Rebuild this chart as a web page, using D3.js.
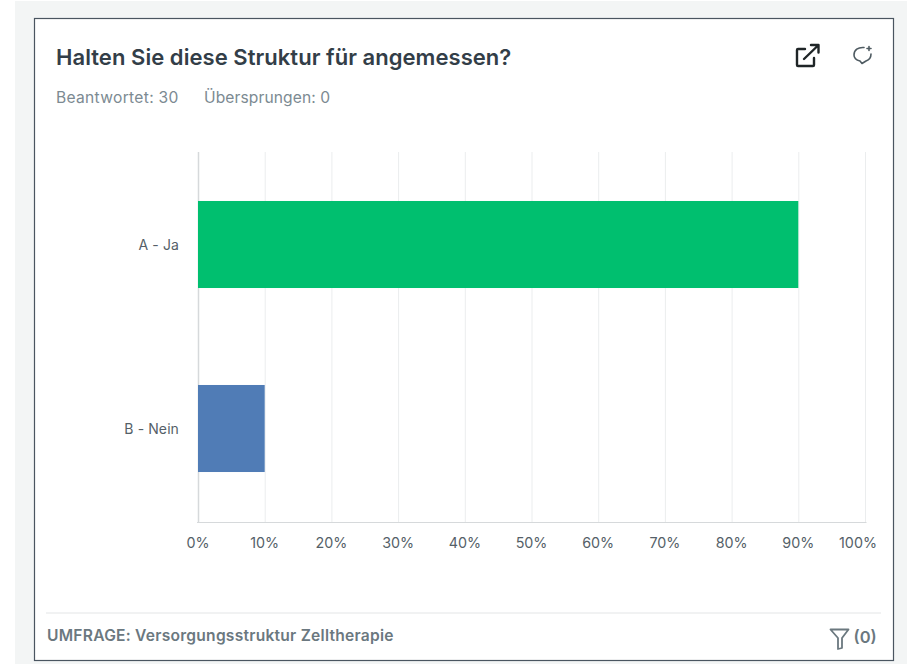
<!DOCTYPE html>
<html><head><meta charset="utf-8">
<script src="https://cdn.jsdelivr.net/npm/d3@7/dist/d3.min.js"></script>
<style>html,body{margin:0;padding:0;background:#fff}svg{display:block}text{font-family:Inter,sans-serif}</style>
</head><body><svg id="c" width="907" height="664"></svg>
<script>
const categories = ["A - Ja", "B - Nein"];
const values = [90, 10];
const barColors = ["#00bf6f", "#507cb6"];
const tickValues = [0,10,20,30,40,50,60,70,80,90,100];
const title = "Halten Sie diese Struktur für angemessen?";
const answered = "Beantwortet: 30";
const skipped = "Übersprungen: 0";
const survey = "UMFRAGE: Versorgungsstruktur Zelltherapie";

const svg = d3.select("#c");
svg.append("rect").attr("x",15).attr("y",1).attr("width",892).attr("height",663).attr("fill","#f3f5f5");
svg.append("rect").attr("x",34.5).attr("y",18.5).attr("width",859).attr("height",642).attr("fill","#fff").attr("stroke","#4a5560").attr("stroke-width",1.2);

svg.append("text").attr("x",56).attr("y",65).attr("font-size",22).attr("letter-spacing",0.05).attr("font-weight",600).attr("fill","#333e48").text(title);
svg.append("text").attr("x",56).attr("y",103).attr("font-size",15.6).attr("letter-spacing",0.3).attr("fill","#7c8a92").text(answered);
svg.append("text").attr("x",204).attr("y",103).attr("font-size",15.6).attr("letter-spacing",0.1).attr("fill","#7c8a92").text(skipped);

const x = d3.scaleLinear().domain([0,100]).range([198,865]);
const y = d3.scaleBand().domain(categories).range([152.5,520.5]).paddingInner(0.527).paddingOuter(0.2635);

svg.append("g").selectAll("line").data(tickValues).join("line")
  .attr("x1",d=>x(d)+.5).attr("x2",d=>x(d)+.5).attr("y1",152).attr("y2",522)
  .attr("stroke",d=>d===0?"#d6d9db":"#ebedee").attr("stroke-width",d=>d===0?1.5:1);
svg.append("line").attr("x1",197).attr("x2",866.5).attr("y1",522.5).attr("y2",522.5).attr("stroke","#d6d9db");

svg.selectAll("rect.bar").data(categories).join("rect").attr("class","bar")
  .attr("x",x(0)).attr("y",d=>y(d)).attr("height",y.bandwidth())
  .attr("width",(d,i)=>x(values[i])-x(0)).attr("fill",(d,i)=>barColors[i]);

svg.selectAll("text.cat").data(categories).join("text").attr("class","cat")
  .attr("x",179).attr("y",d=>y(d)+y.bandwidth()/2+5.5).attr("text-anchor","end")
  .attr("font-size",14).attr("letter-spacing",0.1).attr("fill","#555f68").text(d=>d);

svg.selectAll("text.tick").data(tickValues).join("text").attr("class","tick")
  .attr("x",d=>d===100?x(d)-7:x(d)).attr("y",548).attr("text-anchor","middle")
  .attr("font-size",14.3).attr("fill","#555f68").text(d=>d+"%");

svg.append("line").attr("x1",46).attr("x2",881).attr("y1",613).attr("y2",613).attr("stroke","#e3e5e6");
svg.append("text").attr("x",47).attr("y",640.5).attr("font-size",15.6).attr("letter-spacing",0.24).attr("font-weight",600).attr("fill","#6b787f").text(survey);

// filter icon + count
svg.append("path").attr("d","M830.5 629.5 H848.5 L842 638 V648 L838 649 V638 Z").attr("fill","none").attr("stroke","#6b787f").attr("stroke-width",1.8).attr("stroke-linejoin","round");
svg.append("text").attr("x",853.5).attr("y",643).attr("font-size",16.5).attr("font-weight",600).attr("fill","#6b787f").text("(0)");

// open-in-new icon
const ic = svg.append("g").attr("fill","none").attr("stroke","#1f2527").attr("stroke-width",2.4).attr("stroke-linecap","round").attr("stroke-linejoin","round");
ic.append("path").attr("d","M805 49 H798 Q797 49 797 50 V65 Q797 66 798 66 H813 Q814 66 814 65 V58");
ic.append("path").attr("d","M804 59 L818 45.5 M811 45 H818.5 V52.5");
// comment icon
const cm = svg.append("g").attr("fill","none").attr("stroke","#4f5b62").attr("stroke-width",1.6).attr("stroke-linecap","round").attr("stroke-linejoin","round");
cm.append("path").attr("d","M864 47.5 C858 47 854 50 854 55 C854 58 856 60 860 61 L862 63.5 L866 61 C869 60 871 58 871 54");
cm.append("path").attr("d","M869 46.5 V50.5 M867 48.5 H871");
</script></body></html>
